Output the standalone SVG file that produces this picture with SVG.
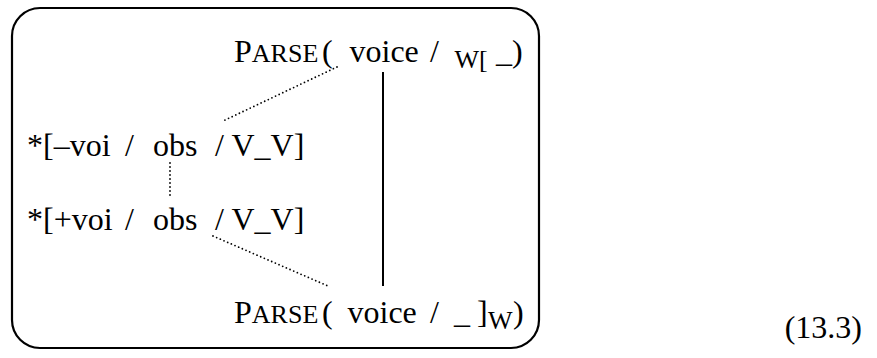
<svg xmlns="http://www.w3.org/2000/svg" width="877" height="358" viewBox="0 0 877 358">
<style>
text{font-family:"Liberation Serif","Times New Roman",serif;font-size:32px;fill:#000}
.sc{font-size:26px}
.sub{font-size:26px}
.thin{font-size:8px}
.dot{fill:none;stroke:#000;stroke-width:1.8;stroke-linecap:round;stroke-dasharray:0 4}
.solid{fill:none;stroke:#000;stroke-width:2}
.frame{fill:none;stroke:#000;stroke-width:2.2}
</style>
<rect class="frame" x="12" y="8" width="527" height="340" rx="28" ry="28"/>
<g id="connectors">
<line class="dot" x1="337" y1="67" x2="223" y2="121"/>
<line class="dot" x1="170" y1="163" x2="170" y2="197"/>
<line class="dot" x1="213" y1="236" x2="328" y2="286"/>
<line class="solid" x1="383" y1="72" x2="383" y2="286"/>
</g>
<g id="parse-top">
<text y="62"><tspan x="234">P</tspan><tspan class="sc">ARSE</tspan><tspan class="thin"> </tspan><tspan x="322">(</tspan><tspan x="341.5"> voice</tspan><tspan x="422"> /</tspan><tspan x="448.5" class="sub" dy="6"> W[</tspan><tspan x="488" dy="-6"> _)</tspan></text>
</g>
<g id="minus-voi">
<text y="156"><tspan x="27">*[–voi</tspan><tspan x="117"> /</tspan><tspan x="145"> obs</tspan><tspan x="207"> /</tspan><tspan x="224"> V_V]</tspan></text>
</g>
<g id="plus-voi">
<text y="230"><tspan x="27">*[+voi</tspan><tspan x="117"> /</tspan><tspan x="145"> obs</tspan><tspan x="207"> /</tspan><tspan x="224"> V_V]</tspan></text>
</g>
<g id="parse-bottom">
<text y="323"><tspan x="234">P</tspan><tspan class="sc">ARSE</tspan><tspan class="thin"> </tspan><tspan x="322">(</tspan><tspan x="339.5"> voice</tspan><tspan x="422"> /</tspan><tspan x="446"> _</tspan><tspan x="469"> ]</tspan><tspan x="488" class="sub" dy="6">W</tspan><tspan x="513" dy="-6">)</tspan></text>
</g>
<g id="eq-number">
<text x="862" y="338" text-anchor="end">(13.3)</text>
</g>
</svg>
